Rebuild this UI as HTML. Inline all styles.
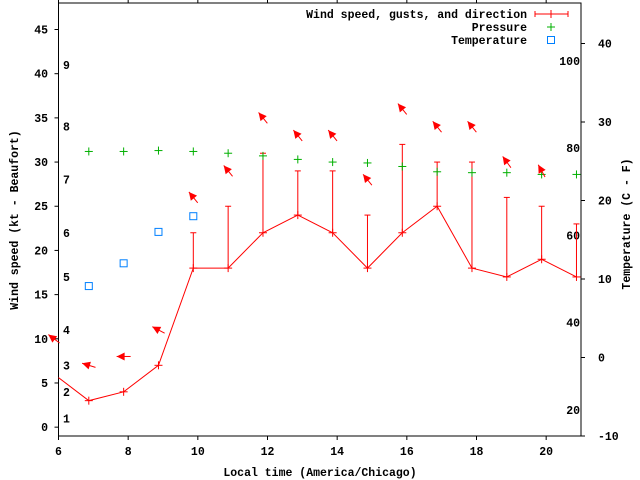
<!DOCTYPE html>
<html><head><meta charset="utf-8"><style>
body{margin:0;background:#fff}
svg{display:block;font-family:"Liberation Mono",monospace;font-weight:bold;font-size:11.5px}
</style></head><body>
<svg id="c" width="640" height="480"></svg>
<script>
const times=[5.87,6.87,7.87,8.87,9.87,10.87,11.87,12.87,13.87,14.87,15.87,16.87,17.87,18.87,19.87,20.87];
const speeds=[6,3,4,7,18,18,22,24,22,18,22,25,18,17,19,17];
const gusts=[null,null,null,null,22,25,31,29,29,24,32,30,30,26,25,23];
const dirs=[127,107,90,118,141,141,141,141,141,141,141,141,141,144,151,null];
const presT=[6.87,7.87,8.87,9.87,10.87,11.87,12.87,13.87,14.87,15.87,16.87,17.87,18.87,19.87,20.87];
const pressure=[31.2,31.2,31.3,31.2,31.0,30.7,30.3,30.0,29.9,29.5,28.9,28.8,28.8,28.6,28.6];
const tempT=[6.87,7.87,8.87,9.87];
const tempC=[9.1,12.0,16.0,18.0];
const xTicks=[6,8,10,12,14,16,18,20];
const yTicks=[0,5,10,15,20,25,30,35,40,45];
const cTicks=[-10,0,10,20,30,40];
const fTicks=[20,40,60,80,100];
const beaufort=[1,4,7,11,17,22,28,34,41];
const L=58.5,R=581,T=3,B=436;
const X=t=>L+(t-6)*(R-L)/15;
const Y=k=>B-(k+1)*(B-T)/49;
const YC=c=>B-(c+10)*7.85;
const YF=f=>YC((f-32)*5/9);
const svg=document.getElementById('c');
const NS='http://www.w3.org/2000/svg';
function el(tag,a,p){const e=document.createElementNS(NS,tag);for(const k in a)e.setAttribute(k,a[k]);(p||svg).appendChild(e);return e;}
function line(x1,y1,x2,y2,c,p){return el('line',{x1,y1,x2,y2,stroke:c,'stroke-width':1},p);}
function txt(s,x,y,anchor,p){const t=el('text',{x,y,'text-anchor':anchor||'start'},p);t.textContent=s;return t;}
const ax=el('g',{});

el('rect',{x:L,y:T,width:R-L,height:B-T,fill:'none',stroke:'#000'},ax);
xTicks.forEach(t=>{const x=X(t);line(x,B,x,B+4,'#000',ax);line(x,T,x,T-4,'#000',ax);const lb=txt(String(t),x,455,'middle',ax);
});
yTicks.forEach(k=>{const y=Y(k);line(L-4,y,L,y,'#000',ax);const lb=txt(String(k),48,y+4,'end',ax);
});
cTicks.forEach(c=>{const y=YC(c);line(R,y,R+4,y,'#000',ax);const lb=txt(String(c),598,y+4,'start',ax);
});
fTicks.forEach(f=>{const lb=txt(String(f),580,YF(f)+4,'end',ax);
});
beaufort.forEach((k,i)=>{const lb=txt(String(i+1),63,Y(k)+4,'start',ax);
});
let t1=txt('Local time (America/Chicago)',320,476,'middle');

let t2=txt('Wind speed (kt - Beaufort)',0,0,'middle');t2.setAttribute('transform','translate(18,220) rotate(-90)');

let t3=txt('Temperature (C - F)',0,0,'middle');t3.setAttribute('transform','translate(630,224) rotate(-90)');

const defs=el('defs',{});const cp=el('clipPath',{id:'pc'},defs);el('rect',{x:L,y:T,width:R-L,height:B-T},cp);
const g=el('g',{'clip-path':'url(#pc)'});

const ag=el('g',{});

const red='#ff0000';
const pl=el('polyline',{points:times.map((t,i)=>X(t)+','+Y(speeds[i])).join(' '),fill:'none',stroke:red},g);

times.forEach((t,i)=>{const x=X(t),y=Y(speeds[i]);
 const m=el('g',{},g);
 line(x-4,y,x+4,y,red,m);line(x,y-4,x,y+4,red,m);
 if(gusts[i]!=null){const yg=Y(gusts[i]);line(x,y,x,yg,red,m);line(x-3,yg,x+3,yg,red,m);}
 if(dirs[i]!=null){const top=gusts[i]!=null?gusts[i]:speeds[i];const cy=Y(top+4);
  const b=(dirs[i]+180)*Math.PI/180;const dx=Math.sin(b),dy=-Math.cos(b);const h=7;
  const hx=x+dx*h,hy=cy+dy*h,tx=x-dx*h,ty=cy-dy*h;
  const a=el('g',{},ag);
  line(tx,ty,hx,hy,red,a);
  const px=-dy,py=dx;
  el('polygon',{points:`${hx},${hy} ${hx-dx*8+px*4},${hy-dy*8+py*4} ${hx-dx*8-px*4},${hy-dy*8-py*4}`,fill:red},a);}
});
const green='#00b000';
presT.forEach((t,i)=>{const x=X(t),y=Y(pressure[i]);const m=el('g',{},g);
 
 line(x-4,y,x+4,y,green,m);line(x,y-4,x,y+4,green,m);});
const blue='#0080ff';
tempT.forEach((t,i)=>{const r=el('rect',{x:X(t)-3.5,y:YC(tempC[i])-3.5,width:7,height:7,fill:'none',stroke:blue},g);
 });
const lg=el('g',{});
const e1=el('g',{},lg);
txt('Wind speed, gusts, and direction',527,18,'end',e1);
line(535,14,568,14,red,e1);line(535,11,535,17,red,e1);line(568,11,568,17,red,e1);line(551,10,551,18,red,e1);
const e2=el('g',{},lg);
txt('Pressure',527,31,'end',e2);line(547,27,555,27,green,e2);line(551,23,551,31,green,e2);
const e3=el('g',{},lg);
txt('Temperature',527,44,'end',e3);el('rect',{x:547.5,y:36.5,width:7,height:7,fill:'none',stroke:blue},e3);
</script>
</body></html>
